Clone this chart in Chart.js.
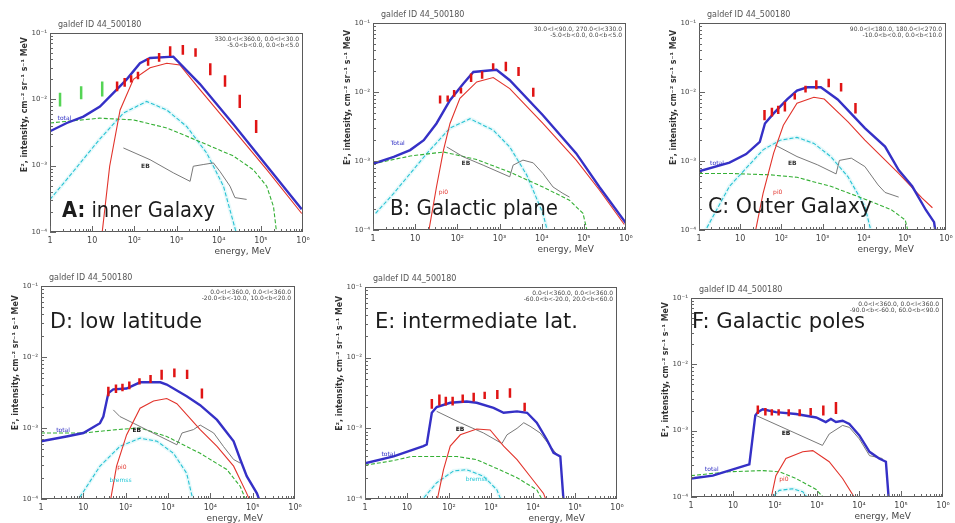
<!DOCTYPE html>
<html><head><meta charset="utf-8">
<script src="https://cdn.jsdelivr.net/npm/chart.js@4.4.1/dist/chart.umd.min.js"></script>
<style>
html,body{margin:0;padding:0;background:#fff;width:955px;height:523px;overflow:hidden;position:relative;}
canvas{position:absolute;}
</style></head><body>
<script>
// ---------- data (energy in MeV, E^2 intensity) ----------
const egretE = [39, 59, 84, 122, 212, 387, 707, 1414, 2828, 6325, 14142, 31623, 77460];
const comptelE = [1.73, 5.48, 17.3];
const xTickDecades = [1, 10, 100, 1e3, 1e4, 1e5, 1e6];
const yTickDecades = [1e-4, 1e-3, 1e-2, 1e-1];

// A: inner Galaxy
const aTotalE = [1, 2.5, 6.2, 15.3, 32, 66, 136, 235, 840, 3600, 22400, 138000, 933000];
const aTotalI = [3.3e-3, 4.4e-3, 5.5e-3, 7.8e-3, 1.25e-2, 2.0e-2, 3.5e-2, 4.2e-2, 4.4e-2, 1.7e-2, 4.2e-3, 1.0e-3, 2.2e-4];
const aPi0E = [17, 26, 46, 95, 236, 590, 1200, 3600, 22400, 138000, 933000];
const aPi0I = [9e-5, 9.8e-4, 6.9e-3, 2.0e-2, 3.0e-2, 3.5e-2, 3.3e-2, 1.4e-2, 3.5e-3, 8.7e-4, 1.9e-4];
const aICE = [1, 15, 95, 590, 3600, 22400, 66000, 138000, 200000, 240000];
const aICI = [4.4e-3, 5.2e-3, 4.9e-3, 3.7e-3, 2.3e-3, 1.4e-3, 8.7e-4, 4.9e-4, 2.4e-4, 9e-5];
const aBremE = [1, 2.5, 15, 55, 195, 590, 1740, 5200, 13000, 27000];
const aBremI = [3.1e-4, 6.2e-4, 2.5e-3, 6.2e-3, 9.3e-3, 6.9e-3, 3.9e-3, 1.55e-3, 4.9e-4, 9e-5];
const aEBE = [55, 236, 840, 2100, 2500, 4300, 7500, 10700, 18600, 24300, 46000];
const aEBI = [1.85e-3, 1.23e-3, 7.8e-4, 5.8e-4, 9.8e-4, 1.04e-3, 1.1e-3, 8.2e-4, 4.9e-4, 3.3e-4, 3.1e-4];
const aEgretLo = [1.32e-2, 1.55e-2, 1.8e-2, 2.0e-2, 3.2e-2, 3.7e-2, 4.5e-2, 4.7e-2, 4.4e-2, 2.3e-2, 1.55e-2, 7.4e-3, 3.1e-3];
const aEgretHi = [1.86e-2, 2.1e-2, 2.3e-2, 2.6e-2, 4.2e-2, 5.0e-2, 6.3e-2, 6.6e-2, 5.9e-2, 3.5e-2, 2.3e-2, 1.17e-2, 4.9e-3];
const aComptelLo = [7.8e-3, 1.0e-2, 1.1e-2];
const aComptelHi = [1.26e-2, 1.58e-2, 1.86e-2];

// B: Galactic plane
const bTotalE = [1, 3.1, 7.6, 16, 32, 67, 138, 240, 850, 1750, 10700, 66000, 234000, 1e6];
const bTotalI = [9.1e-4, 1.15e-3, 1.44e-3, 2.0e-3, 3.5e-3, 7.6e-3, 1.32e-2, 1.95e-2, 2.1e-2, 1.48e-2, 4.6e-3, 1.29e-3, 4.2e-4, 1.25e-4];
const bPi0E = [20.6, 32, 47, 67, 115, 288, 710, 1750, 10700, 66000, 234000, 912000];
const bPi0I = [9e-5, 4.2e-4, 1.44e-3, 3.5e-3, 8.1e-3, 1.4e-2, 1.62e-2, 1.12e-2, 3.5e-3, 1.03e-3, 3.8e-4, 1.2e-4];
const bICE = [1, 7.6, 47, 288, 1750, 10700, 45700, 95500, 123000];
const bICI = [9.1e-4, 1.18e-3, 1.35e-3, 1.05e-3, 6.9e-4, 4.2e-4, 2.7e-4, 1.74e-4, 9e-5];
const bBremE = [1.15, 3.1, 19, 67, 200, 710, 1750, 4400, 10700, 14100];
const bBremI = [1.74e-4, 3.4e-4, 1.29e-3, 3.0e-3, 4.1e-3, 2.8e-3, 1.6e-3, 6.3e-4, 1.74e-4, 9e-5];
const bEBE = [56, 138, 410, 1750, 2100, 3600, 6300, 10700, 18600, 31600, 45700];
const bEBI = [1.6e-3, 1.15e-3, 8.7e-4, 5.9e-4, 8.7e-4, 1.03e-3, 9.4e-4, 6.6e-4, 4.2e-4, 3.4e-4, 3.0e-4];
const bEgretLo = [6.8e-3, 7.2e-3, 8.5e-3, 9.5e-3, 1.4e-2, 1.55e-2, 2.1e-2, 2.0e-2, 1.7e-2, 8.5e-3];
const bEgretHi = [8.9e-3, 8.9e-3, 1.07e-2, 1.15e-2, 1.86e-2, 2.0e-2, 2.6e-2, 2.75e-2, 2.3e-2, 1.15e-2];

// C: Outer Galaxy
const cTotalE = [1, 5.5, 14, 30, 40, 65, 138, 240, 427, 912, 2340, 10700, 33100, 70800, 151000, 324000, 513000, 562000];
const cTotalI = [7.1e-4, 9.5e-4, 1.26e-3, 1.9e-3, 3.5e-3, 4.9e-3, 7.8e-3, 1.05e-2, 1.17e-2, 1.17e-2, 7.8e-3, 3.0e-3, 1.62e-3, 7.4e-4, 4.3e-4, 1.95e-4, 1.3e-4, 9e-5];
const cPi0E = [23, 36, 65, 112, 240, 617, 1100, 4170, 10700, 70800, 263000, 468000];
const cPi0I = [9e-5, 3.4e-4, 1.3e-3, 3.3e-3, 6.9e-3, 8.4e-3, 7.9e-3, 3.7e-3, 2.0e-3, 6.6e-4, 2.9e-4, 2.1e-4];
const cICE = [1, 5.5, 54, 240, 1580, 10700, 47900, 102000, 123000];
const cICI = [6.6e-4, 6.6e-4, 6.3e-4, 5.8e-4, 4.3e-4, 2.8e-4, 1.95e-4, 1.4e-4, 9e-5];
const cBremE = [1.32, 5.5, 36, 93, 240, 617, 1580, 4170, 10700, 15500];
const cBremI = [9e-5, 4.3e-4, 1.45e-3, 2.0e-3, 2.2e-3, 1.8e-3, 1.16e-3, 5.9e-4, 2.2e-4, 9e-5];
const cEBE = [71, 240, 759, 2140, 2570, 5010, 10700, 22400, 33100, 70800];
const cEBI = [1.7e-3, 1.16e-3, 8.8e-4, 6.5e-4, 1.02e-3, 1.1e-3, 8.3e-4, 4.5e-4, 3.5e-4, 3.0e-4];
const cEgretLo = [3.9e-3, 4.4e-3, 4.8e-3, 5.2e-3, 7.8e-3, 9.8e-3, 1.1e-2, 1.17e-2, 1.02e-2, 4.9e-3];
const cEgretHi = [5.5e-3, 5.9e-3, 6.3e-3, 7.2e-3, 9.6e-3, 1.23e-2, 1.48e-2, 1.55e-2, 1.35e-2, 6.9e-3];

// D: low latitude
const dTotalE = [1, 4, 10, 24.7, 29.7, 39, 51, 105, 219, 660, 933, 2760, 5750, 14400, 35500, 51000, 72400, 126000, 151000];
const dTotalI = [6.5e-4, 7.6e-4, 8.5e-4, 1.17e-3, 1.45e-3, 3.1e-3, 3.5e-3, 3.6e-3, 4.4e-3, 4.4e-3, 4.1e-3, 2.8e-3, 2.1e-3, 1.3e-3, 6.5e-4, 3.6e-4, 2.1e-4, 1.2e-4, 9e-5];
const dPi0E = [43, 61, 105, 219, 455, 933, 1620, 5750, 14400, 35500, 72400, 89000];
const dPi0I = [9e-5, 2.9e-4, 8.0e-4, 1.9e-3, 2.4e-3, 2.6e-3, 2.2e-3, 9.5e-4, 5.5e-4, 2.9e-4, 1.2e-4, 9e-5];
const dICE = [1, 10, 61, 219, 933, 5750, 24500, 51000, 72400];
const dICI = [8.5e-4, 8.5e-4, 9.5e-4, 1.0e-3, 7.6e-4, 4.4e-4, 2.6e-4, 1.5e-4, 9e-5];
const dBremE = [6.9, 24.7, 73, 219, 550, 1350, 2760, 4000];
const dBremI = [9e-5, 2.9e-4, 5.5e-4, 7.2e-4, 6.5e-4, 4.4e-4, 2.3e-4, 9e-5];
const dEBE = [51, 73, 152, 380, 1620, 2140, 4000, 5750, 12000, 20400, 35500, 51000];
const dEBI = [1.8e-3, 1.45e-3, 1.17e-3, 8.9e-4, 5.8e-4, 8.5e-4, 9.5e-4, 1.1e-3, 8.5e-4, 5.5e-4, 3.6e-4, 3.2e-4];
const dEgretLo = [2.8e-3, 3.1e-3, 3.3e-3, 3.5e-3, 4.1e-3, 4.3e-3, 4.8e-3, 5.2e-3, 4.9e-3, 2.6e-3];
const dEgretHi = [3.8e-3, 4.1e-3, 4.2e-3, 4.5e-3, 5.0e-3, 5.6e-3, 6.6e-3, 6.9e-3, 6.6e-3, 3.6e-3];

// E: intermediate latitudes
const eTotalE = [1, 4.8, 24.5, 29.5, 39, 51, 107, 263, 457, 1150, 2000, 4170, 7240, 12300, 21400, 30900, 44700, 53700];
const eTotalI = [3.2e-4, 4.0e-4, 5.6e-4, 5.9e-4, 1.66e-3, 2.0e-3, 2.3e-3, 2.4e-3, 2.3e-3, 1.95e-3, 1.66e-3, 1.74e-3, 1.66e-3, 1.2e-3, 6.9e-4, 4.5e-4, 4.0e-4, 9e-5];
const ePi0E = [51, 74, 107, 186, 457, 955, 2000, 4170, 8510, 17800, 21400];
const ePi0I = [9e-5, 2.6e-4, 5.6e-4, 8.1e-4, 9.8e-4, 9.5e-4, 5.6e-4, 3.6e-4, 2.1e-4, 1.2e-4, 9e-5];
const eICE = [1, 4.8, 12.9, 155, 457, 1380, 4170, 12300, 17800];
const eICI = [3.0e-4, 3.5e-4, 4.0e-4, 4.0e-4, 3.6e-4, 2.7e-4, 2.0e-4, 1.35e-4, 9e-5];
const eBremE = [20.4, 51, 129, 263, 661, 1380, 1820];
const eBremI = [9e-5, 1.7e-4, 2.5e-4, 2.6e-4, 2.1e-4, 1.35e-4, 9e-5];
const eEBE = [51, 186, 661, 1820, 2400, 4170, 6030, 8510, 14800, 25700, 40700];
const eEBI = [1.74e-3, 1.2e-3, 8.6e-4, 6.1e-4, 8.1e-4, 1.0e-3, 1.2e-3, 1.07e-3, 8.6e-4, 5.6e-4, 4.0e-4];
const eEgretLo = [1.9e-3, 2.1e-3, 2.1e-3, 2.1e-3, 2.3e-3, 2.4e-3, 2.6e-3, 2.6e-3, 2.7e-3, 1.74e-3];
const eEgretHi = [2.6e-3, 3.0e-3, 2.8e-3, 2.8e-3, 3.0e-3, 3.2e-3, 3.3e-3, 3.5e-3, 3.7e-3, 2.3e-3];

// F: Galactic poles
const fTotalE = [1, 3.3, 17, 24.5, 34, 39, 51, 105, 316, 955, 1620, 2140, 2820, 4070, 5890, 10200, 17800, 30200, 43700, 51300];
const fTotalI = [1.9e-4, 2.1e-4, 2.9e-4, 3.1e-4, 1.7e-3, 1.9e-3, 2.1e-3, 1.9e-3, 1.78e-3, 1.58e-3, 1.35e-3, 1.5e-3, 1.35e-3, 1.41e-3, 1.26e-3, 8.5e-4, 4.8e-4, 3.8e-4, 3.4e-4, 9e-5];
const fPi0E = [79, 105, 182, 457, 794, 1950, 4070, 8510];
const fPi0I = [9e-5, 2.1e-4, 3.8e-4, 4.8e-4, 5.0e-4, 3.4e-4, 1.9e-4, 9e-5];
const fICE = [1, 8.1, 51, 126, 316, 955, 1620];
const fICI = [2.1e-4, 2.4e-4, 2.5e-4, 2.4e-4, 1.9e-4, 1.3e-4, 9e-5];
const fBremE = [74, 126, 263, 457, 661];
const fBremI = [9e-5, 1.26e-4, 1.33e-4, 1.2e-4, 9e-5];
const fEBE = [35, 1350, 1950, 4070, 5890, 10200, 17800, 36300];
const fEBI = [1.7e-3, 6.0e-4, 8.9e-4, 1.2e-3, 1.12e-3, 7.5e-4, 4.2e-4, 3.8e-4];
const fEgretLo = [1.78e-3, 1.7e-3, 1.7e-3, 1.7e-3, 1.65e-3, 1.65e-3, 1.7e-3, 1.7e-3, 1.78e-3];
const fEgretHi = [2.4e-3, 2.2e-3, 2.1e-3, 2.1e-3, 2.1e-3, 2.1e-3, 2.2e-3, 2.4e-3, 2.7e-3];

const titleText = 'galdef ID 44_500180';
const yTitle = 'E², intensity, cm⁻² sr⁻¹ s⁻¹ MeV';
const xTitle = 'energy, MeV';

// ---------- layout / styles ----------
const FONT = '"DejaVu Sans", "Liberation Sans", sans-serif';
const COL = {total:'#3530c6', pi0:'#e2332b', ic:'#35b035', brem:'#28c3d3', bremHalo:'rgba(140,228,238,0.22)', eb:'#6a6a6a', egret:'#e01414', comptel:'#55d455'};

const panels = [
  {frame:[50,33,303,232], total:[aTotalE,aTotalI], pi0:[aPi0E,aPi0I], ic:[aICE,aICI], brem:[aBremE,aBremI], eb:[aEBE,aEBI],
   egret:[aEgretLo,aEgretHi], comptel:[aComptelLo,aComptelHi],
   label:[{t:'A:',b:true},{t:' inner Galaxy'}], labelPos:[12,-15,153,'bottom'],
   corner:['330.0<l<360.0, 0.0<l<30.0','-5.0<b<0.0, 0.0<b<5.0'],
   tags:[['total',0.03,0.43,'#2f2fc4'],['EB',0.36,0.67,'#333']]},
  {frame:[373,23,626,230], total:[bTotalE,bTotalI], pi0:[bPi0E,bPi0I], ic:[bICE,bICI], brem:[bBremE,bBremI], eb:[bEBE,bEBI],
   egret:[bEgretLo,bEgretHi],
   label:[{t:'B: Galactic plane'}], labelPos:[17,-15,168,'bottom'],
   corner:['30.0<l<90.0, 270.0<l<330.0','-5.0<b<0.0, 0.0<b<5.0'],
   tags:[['Total',0.07,0.58,'#2f2fc4'],['EB',0.35,0.68,'#333'],['pi0',0.26,0.82,'#e2332b']]},
  {frame:[699,23,946,230], total:[cTotalE,cTotalI], pi0:[cPi0E,cPi0I], ic:[cICE,cICI], brem:[cBremE,cBremI], eb:[cEBE,cEBI],
   egret:[cEgretLo,cEgretHi],
   label:[{t:'C: Outer Galaxy'}], labelPos:[9,-17,164,'bottom'],
   corner:['90.0<l<180.0, 180.0<l<270.0','-10.0<b<0.0, 0.0<b<10.0'],
   tags:[['total',0.045,0.68,'#2f2fc4'],['EB',0.36,0.68,'#333'],['pi0',0.30,0.82,'#e2332b']]},
  {frame:[41,286,295,499], total:[dTotalE,dTotalI], pi0:[dPi0E,dPi0I], ic:[dICE,dICI], brem:[dBremE,dBremI], eb:[dEBE,dEBI],
   egret:[dEgretLo,dEgretHi],
   label:[{t:'D: low latitude'}], labelPos:[9,42,152,'top'],
   corner:['0.0<l<360.0, 0.0<l<360.0','-20.0<b<-10.0, 10.0<b<20.0'],
   tags:[['total',0.06,0.68,'#2f2fc4'],['EB',0.36,0.68,'#111'],['pi0',0.30,0.85,'#e2332b'],['bremss',0.27,0.915,'#1fc6d6']]},
  {frame:[365,287,617,499], total:[eTotalE,eTotalI], pi0:[ePi0E,ePi0I], ic:[eICE,eICI], brem:[eBremE,eBremI], eb:[eEBE,eEBI],
   egret:[eEgretLo,eEgretHi],
   label:[{t:'E: intermediate lat.'}], labelPos:[10,41,203,'top'],
   corner:['0.0<l<360.0, 0.0<l<360.0','-60.0<b<-20.0, 20.0<b<60.0'],
   tags:[['total',0.065,0.79,'#2f2fc4'],['EB',0.36,0.67,'#111'],['bremss',0.40,0.91,'#1fc6d6']]},
  {frame:[691,298,943,497], total:[fTotalE,fTotalI], pi0:[fPi0E,fPi0I], ic:[fICE,fICI], brem:[fBremE,fBremI], eb:[fEBE,fEBI],
   egret:[fEgretLo,fEgretHi],
   label:[{t:'F: Galactic poles'}], labelPos:[1,30,173,'top'],
   corner:['0.0<l<360.0, 0.0<l<360.0','-90.0<b<-60.0, 60.0<b<90.0'],
   tags:[['total',0.055,0.86,'#2f2fc4'],['EB',0.36,0.68,'#111'],['pi0',0.35,0.91,'#e2332b']]}
];

const SUP = {'-':'⁻','0':'⁰','1':'¹','2':'²','3':'³','4':'⁴','5':'⁵','6':'⁶','7':'⁷','8':'⁸','9':'⁹'};
function supStr(n){ return String(n).split('').map(c=>SUP[c]).join(''); }
function decadeLabel(v, forceTen){
  const e = Math.round(Math.log10(v));
  if (!forceTen && e === 0) return '1';
  if (!forceTen && e === 1) return '10';
  return '10' + supStr(e);
}

function lineDS(pair, color, width, dash){
  const [E, I] = pair;
  return {type:'line', data:E.map((e,i)=>({x:e, y:I[i]})), borderColor:color, borderWidth:width,
          borderDash:dash||[], pointRadius:0, fill:false, tension:0, spanGaps:false};
}
function barsDS(E, pair, color, width){
  const [lo, hi] = pair;
  const pts = [];
  lo.forEach((l,i)=>{ pts.push({x:E[i], y:l}, {x:E[i], y:hi[i]}, {x:E[i], y:null}); });
  return {type:'line', data:pts, borderColor:color, borderWidth:width, pointRadius:0, fill:false, spanGaps:false, borderCapStyle:'butt'};
}

function fitText(ctx, segs, x, y, width, size, color, align){
  let total = 0;
  const widths = segs.map(s=>{ ctx.font = (s.b?'bold ':'') + size + 'px ' + FONT; const w = ctx.measureText(s.t).width; total += w; return w; });
  const k = width / total;
  ctx.save();
  ctx.translate(x, y);
  ctx.scale(k, 1);
  let cx = align === 'center' ? -total/2 : 0;
  ctx.fillStyle = color;
  ctx.textAlign = 'left';
  segs.forEach((s,i)=>{ ctx.font = (s.b?'bold ':'') + size + 'px ' + FONT; ctx.fillText(s.t, cx, 0); cx += widths[i]; });
  ctx.restore();
}

const PAD_L = 40, PAD_T = 30, PAD_R = 10, PAD_B = 30;

function makeDeco(p){
  return {
  id:'deco',
  afterDraw(chart){
    const ctx = chart.ctx;
    const a = chart.chartArea;
    const xs = chart.scales.x, ys = chart.scales.y;
    ctx.save();
    // frame
    ctx.strokeStyle = '#5a5a5a';
    ctx.lineWidth = 1;
    ctx.strokeRect(Math.round(a.left)+0.5, Math.round(a.top)+0.5, Math.round(a.right-a.left)-1, Math.round(a.bottom-a.top)-1);
    // inside ticks (major + minor) via scales
    ctx.strokeStyle = '#666';
    ctx.beginPath();
    for (let e = 0; e < 6; e++) for (let m = 1; m <= 9; m++) {
      const v = m * Math.pow(10, e);
      const px = Math.round(xs.getPixelForValue(v)) + 0.5;
      const len = m === 1 ? 6 : 3;
      ctx.moveTo(px, a.bottom); ctx.lineTo(px, a.bottom - len);
    }
    for (let e = -4; e <= -2; e++) for (let m = 1; m <= 9; m++) {
      const v = m * Math.pow(10, e);
      const py = Math.round(ys.getPixelForValue(v)) + 0.5;
      const len = m === 1 ? 6 : 3;
      ctx.moveTo(a.left, py); ctx.lineTo(a.left + len, py);
    }
    ctx.stroke();
    // title above frame
    ctx.fillStyle = '#555';
    ctx.font = '8px ' + FONT;
    ctx.textAlign = 'left'; ctx.textBaseline = 'alphabetic';
    ctx.fillText(titleText, a.left + 8, a.top - 6);
    // corner annotation
    ctx.font = '6px ' + FONT;
    ctx.textAlign = 'right';
    ctx.fillStyle = '#444';
    ctx.fillText(p.corner[0], a.right - 4, a.top + 8);
    ctx.fillText(p.corner[1], a.right - 4, a.top + 14);
    // x title
    ctx.font = '9px ' + FONT;
    ctx.fillStyle = '#444';
    ctx.textAlign = 'right';
    ctx.fillText(xTitle, a.right - 32, a.bottom + 22);
    // y title (rotated)
    ctx.save();
    ctx.translate(a.left - 25, a.top + 0.36 * (a.bottom - a.top));
    ctx.rotate(-Math.PI/2);
    ctx.textBaseline = 'middle';
    fitText(ctx, [{t:yTitle, b:true}], 0, 0, 135, 8, '#333', 'center');
    ctx.restore();
    // small curve tags
    ctx.textBaseline = 'middle';
    ctx.textAlign = 'left';
    p.tags.forEach(([t, fx, fy, c])=>{
      ctx.font = (t === 'EB' ? 'bold ' : '') + '6px ' + FONT;
      ctx.fillStyle = c;
      ctx.fillText(t, a.left + fx * (a.right - a.left), a.top + fy * (a.bottom - a.top));
    });
    // big panel label
    ctx.textBaseline = 'alphabetic';
    const [dx, dy, w, ref] = p.labelPos;
    const by = ref === 'bottom' ? a.bottom + dy : a.top + dy;
    fitText(ctx, p.label, a.left + dx, by, w, 22, '#1c1c1c', 'left');
    ctx.restore();
  }};
}

panels.forEach(p=>{
  const [l, t, r, b] = p.frame;
  const cv = document.createElement('canvas');
  const w = (r - l) + PAD_L + PAD_R, h = (b - t) + PAD_T + PAD_B;
  cv.width = w; cv.height = h;
  cv.style.left = (l - PAD_L) + 'px';
  cv.style.top = (t - PAD_T) + 'px';
  cv.style.width = w + 'px'; cv.style.height = h + 'px';
  document.body.appendChild(cv);

  const datasets = [];
  datasets.push(barsDS(egretE, p.egret, COL.egret, 2.5));
  if (p.comptel) datasets.push(barsDS(comptelE, p.comptel, COL.comptel, 2.5));
  datasets.push(lineDS(p.total, COL.total, 2.4));
  datasets.push(lineDS(p.pi0, COL.pi0, 1.1));
  datasets.push(lineDS(p.eb, COL.eb, 0.9));
  datasets.push(lineDS(p.ic, COL.ic, 1.1, [4,2]));
  datasets.push(lineDS(p.brem, COL.brem, 1.1, [4,2]));
  datasets.push(lineDS(p.brem, COL.bremHalo, 4));

  new Chart(cv.getContext('2d'), {
    type:'line',
    data:{datasets},
    options:{
      responsive:false, animation:false, events:[],
      devicePixelRatio:1,
      layout:{padding:{left:0, top:PAD_T, right:PAD_R, bottom:0}},
      plugins:{legend:{display:false}, tooltip:{enabled:false}},
      scales:{
        x:{type:'logarithmic', min:1, max:1e6, position:'bottom',
           afterBuildTicks(s){ s.ticks = xTickDecades.map(v=>({value:v})); },
           afterFit(s){ s.height = PAD_B; s.paddingLeft = 0; s.paddingRight = 0; s.paddingTop = 0; s.paddingBottom = 0; },
           grid:{display:false, drawTicks:false}, border:{display:false},
           ticks:{autoSkip:false, maxRotation:0, minRotation:0, padding:4, color:'#444',
                  font:{size:8, family:FONT}, callback:(v)=>decadeLabel(v,false)}},
        y:{type:'logarithmic', min:1e-4, max:1e-1, position:'left',
           afterBuildTicks(s){ s.ticks = yTickDecades.map(v=>({value:v})); },
           afterFit(s){ s.width = PAD_L; s.paddingLeft = 0; s.paddingRight = 0; s.paddingTop = 0; s.paddingBottom = 0; },
           grid:{display:false, drawTicks:false}, border:{display:false},
           ticks:{autoSkip:false, padding:3, color:'#444', font:{size:7, family:FONT},
                  callback:(v)=>decadeLabel(v,true)}}
      }
    },
    plugins:[makeDeco(p)]
  });
});
</script>
</body></html>
